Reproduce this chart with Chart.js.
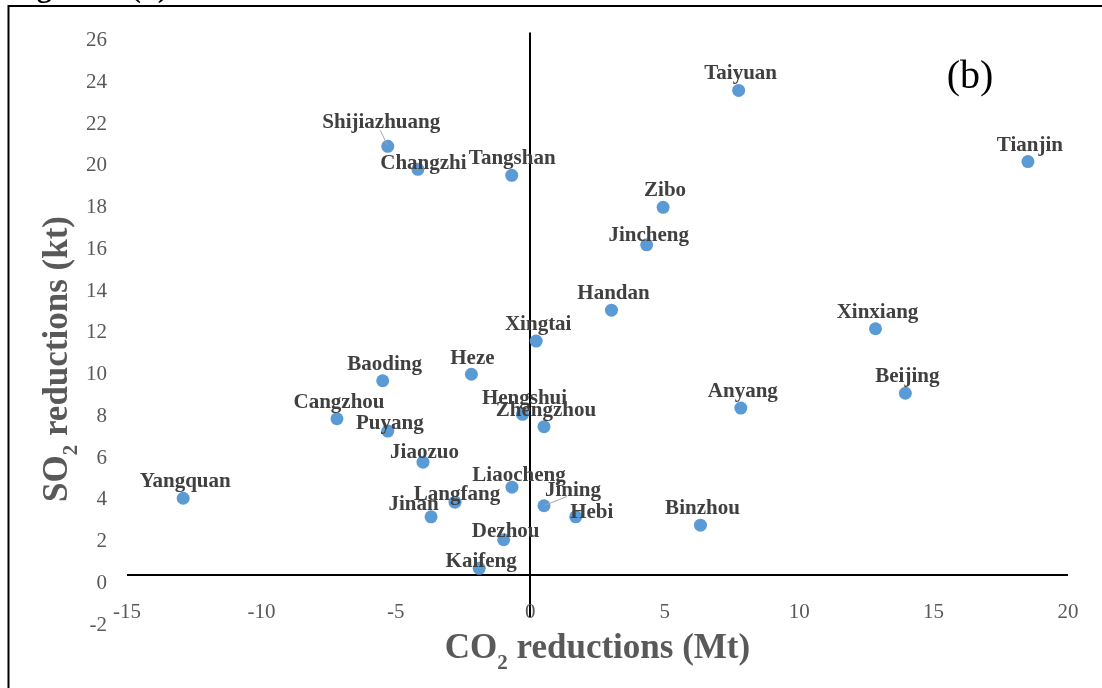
<!DOCTYPE html>
<html>
<head>
<meta charset="utf-8">
<script src="https://cdn.jsdelivr.net/npm/chart.js@4.4.0/dist/chart.umd.min.js"></script>
<style>
html,body{margin:0;padding:0;background:#fff;overflow:hidden;}
#wrap{position:absolute;left:0;top:0;width:1102px;height:688px;}
</style>
</head>
<body>
<div id="wrap"><canvas id="c" width="1102" height="688"></canvas></div>
<script>
// ---------- data ----------
const cities = ["Yangquan","Shijiazhuang","Changzhi","Tangshan","Taiyuan","Tianjin","Zibo","Jincheng","Handan","Xinxiang","Xingtai","Baoding","Heze","Beijing","Anyang","Cangzhou","Hengshui","Zhengzhou","Puyang","Jiaozuo","Liaocheng","Langfang","Jining","Jinan","Hebi","Binzhou","Dezhou","Kaifeng"];
const co2Reductions = [-12.91,-5.30,-4.18,-0.69,7.75,18.51,4.94,4.33,3.02,12.84,0.22,-5.49,-2.19,13.95,7.83,-7.19,-0.29,0.51,-5.30,-3.99,-0.68,-2.80,0.51,-3.69,1.69,6.33,-0.99,-1.90];
const so2Reductions = [3.69,20.55,19.45,19.16,23.23,19.82,17.63,15.83,12.70,11.81,11.22,9.32,9.63,8.72,8.01,7.50,7.71,7.12,6.91,5.42,4.22,3.50,3.33,2.80,2.80,2.40,1.70,0.33];
const xTickValues = [-15,-10,-5,0,5,10,15,20];
const yTickValues = [-2,0,2,4,6,8,10,12,14,16,18,20,22,24,26];

// ---------- label placement (style, px offsets from marker) ----------
const labelDefault = {dx: 2, dy: -16.5};
const labelPlacement = {
  Shijiazhuang: {dx: -6.5, dy: -23.5, leader: [[-0.5,-1.5],[-7.5,-16]]},
  Changzhi: {dx: 5.5, dy: -6},
  Tangshan: {dx: 0.5, dy: -16.5},
  Jincheng: {dx: 2, dy: -9.5},
  Heze: {dx: 1, dy: -15.5},
  Hengshui: {dx: 2, dy: -15.5},
  Puyang: {dx: 2, dy: -7},
  Jiaozuo: {dx: 1.5, dy: -10},
  Liaocheng: {dx: 7, dy: -12},
  Langfang: {dx: 2, dy: -8},
  Jining: {dx: 29, dy: -15, leader: [[0.5,-0.3],[23,-9.3]]},
  Jinan: {dx: -17.5, dy: -12},
  Hebi: {dx: 16, dy: -4.5},
  Dezhou: {dx: 2, dy: -8},
  Kaifeng: {dx: 2, dy: -7}
};

const SERIF = "'Liberation Serif','Times New Roman',serif";

const points = cities.map((c, i) => ({x: co2Reductions[i], y: so2Reductions[i]}));

const cityLabels = {
  id: 'cityLabels',
  afterDatasetsDraw(chart) {
    const ctx = chart.ctx;
    const meta = chart.getDatasetMeta(0);
    ctx.save();
    meta.data.forEach((el, i) => {
      const name = cities[i];
      const p = labelPlacement[name] || labelDefault;
      if (p.leader) {
        ctx.strokeStyle = '#A5A5A5';
        ctx.lineWidth = 1;
        ctx.beginPath();
        ctx.moveTo(el.x + p.leader[0][0], el.y + p.leader[0][1]);
        ctx.lineTo(el.x + p.leader[1][0], el.y + p.leader[1][1]);
        ctx.stroke();
      }
    });
    ctx.font = "bold 21px " + SERIF;
    ctx.fillStyle = '#404040';
    ctx.textAlign = 'center';
    ctx.textBaseline = 'middle';
    meta.data.forEach((el, i) => {
      const name = cities[i];
      const p = labelPlacement[name] || labelDefault;
      ctx.fillText(name, el.x + p.dx, el.y + p.dy);
    });
    ctx.restore();
  }
};

function drawSubText(ctx, a, sub, b, fontMain, fontSub, subDrop) {
  ctx.font = fontMain; const wa = ctx.measureText(a).width; const wb = ctx.measureText(b).width;
  ctx.font = fontSub; const ws = ctx.measureText(sub).width;
  const total = wa + ws + wb;
  let x = -total / 2;
  ctx.textAlign = 'left'; ctx.textBaseline = 'alphabetic';
  ctx.font = fontMain; ctx.fillText(a, x, 0); x += wa;
  ctx.font = fontSub; ctx.fillText(sub, x, subDrop); x += ws;
  ctx.font = fontMain; ctx.fillText(b, x, 0);
}

const decorations = {
  id: 'decorations',
  afterDraw(chart) {
    const ctx = chart.ctx;
    const ca = chart.chartArea;
    ctx.save();
    // frame
    ctx.strokeStyle = '#000';
    ctx.lineWidth = 2;
    ctx.beginPath();
    ctx.moveTo(8.5, 688); ctx.lineTo(8.5, 6); ctx.lineTo(1102, 6);
    ctx.stroke();
    // cropped caption at very top
    ctx.fillStyle = '#000';
    ctx.font = "bold 30px " + SERIF;
    ctx.textBaseline = 'alphabetic';
    ctx.textAlign = 'left';
    ctx.fillText('Figure', 10, -3);
    ctx.fillText('(b)', 131, -3);
    // panel tag
    ctx.font = "40px " + SERIF;
    ctx.textAlign = 'center';
    ctx.fillText('(b)', 970, 88);
    // axis titles
    ctx.fillStyle = '#595959';
    const fm = "bold 35px " + SERIF, fs = "bold 21px " + SERIF;
    ctx.save();
    ctx.translate((ca.left + ca.right) / 2, 658);
    drawSubText(ctx, 'CO', '2', ' reductions (Mt)', fm, fs, 11);
    ctx.restore();
    ctx.save();
    ctx.translate(67, 359);
    ctx.rotate(-Math.PI / 2);
    drawSubText(ctx, 'SO', '2', ' reductions (kt)', fm, fs, 10);
    ctx.restore();
    ctx.restore();
  }
};

const axisLine = ctx => (ctx.tick && ctx.tick.value === 0) ? '#000000' : 'rgba(0,0,0,0)';

new Chart(document.getElementById('c'), {
  type: 'scatter',
  data: {
    datasets: [{
      label: 'Cities',
      data: points,
      backgroundColor: '#5B9BD5',
      borderWidth: 0,
      pointRadius: 6.5,
      pointHoverRadius: 6.5
    }]
  },
  options: {
    responsive: false,
    devicePixelRatio: 1,
    animation: false,
    layout: {padding: {top: 32, right: 34, bottom: 0, left: 0}},
    plugins: {legend: {display: false}, tooltip: {enabled: false}},
    scales: {
      x: {
        type: 'linear',
        min: xTickValues[0],
        max: xTickValues[xTickValues.length - 1],
        afterBuildTicks: s => { s.ticks = xTickValues.map(v => ({value: v})); },
        afterFit: s => { s.height = 71; },
        border: {display: false},
        grid: {drawTicks: false, color: axisLine, lineWidth: 2},
        ticks: {font: {family: SERIF, size: 21}, color: '#595959', mirror: true, padding: -8, maxRotation: 0, autoSkip: false}
      },
      y: {
        type: 'linear',
        min: yTickValues[0],
        max: yTickValues[yTickValues.length - 1],
        afterBuildTicks: s => { s.ticks = yTickValues.map(v => ({value: v})); },
        afterFit: s => { s.width = 127; },
        border: {display: false},
        grid: {drawTicks: false, color: axisLine, lineWidth: 2},
        ticks: {font: {family: SERIF, size: 21}, color: '#595959', padding: 20, labelOffset: 8, autoSkip: false}
      }
    }
  },
  plugins: [cityLabels, decorations]
});
</script>
</body>
</html>
